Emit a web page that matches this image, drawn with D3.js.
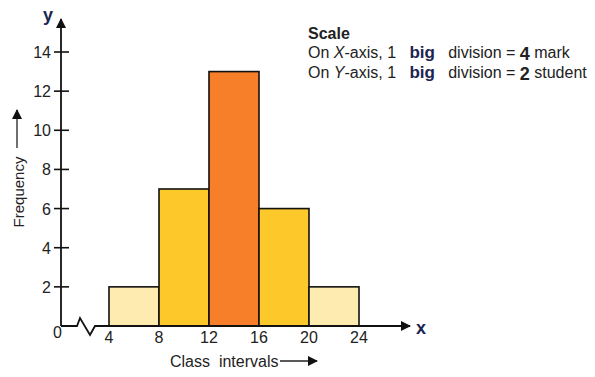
<!DOCTYPE html>
<html>
<head>
<meta charset="utf-8">
<script src="https://cdn.jsdelivr.net/npm/d3@7"></script>
<style>
  body { margin: 0; background: #fff; }
  text { font-family: "Liberation Sans", Arial, sans-serif; }
</style>
</head>
<body>
<script>
// class intervals and frequencies
const lower = [4, 8, 12, 16, 20];
const upper = [8, 12, 16, 20, 24];
const freq = [2, 7, 13, 6, 2];
const fills = ["#feebb0", "#fdc82a", "#f77f2a", "#fdc82a", "#feebb0"];
const xTicks = [4, 8, 12, 16, 20, 24];
const yTicks = [2, 4, 6, 8, 10, 12, 14];

const svg = d3.select("body").append("svg")
   .attr("width", 595)
   .attr("height", 377);

const x = d3.scaleLinear().domain([4, 24]).range([109, 359]);
const y = d3.scaleLinear().domain([0, 14]).range([326, 52]);
const x0 = 61;

// bars
svg.selectAll("rect.bar")
   .data(freq)
   .enter()
   .append("rect")
   .attr("class", "bar")
   .attr("x", (d, i) => x(lower[i]))
   .attr("y", d => y(d))
   .attr("width", (d, i) => x(upper[i]) - x(lower[i]))
   .attr("height", d => y(0) - y(d))
   .style("fill", (d, i) => fills[i])
   .style("stroke", "#111")
   .style("stroke-width", 1.6);

// arrow marker
svg.append("defs").append("marker")
   .attr("id", "arr")
   .attr("viewBox", "0 0 10 10")
   .attr("refX", 9).attr("refY", 5)
   .attr("markerWidth", 10).attr("markerHeight", 10)
   .attr("markerUnits", "userSpaceOnUse")
   .attr("orient", "auto")
   .append("path").attr("d", "M0,0 L10,5 L0,10 z").attr("fill", "#111");

// y axis line
svg.append("line")
   .attr("x1", x0).attr("y1", y(0))
   .attr("x2", x0).attr("y2", 19)
   .style("stroke", "#111").style("stroke-width", 1.8)
   .attr("marker-end", "url(#arr)");

// x axis with break
svg.append("path")
   .attr("d", `M${x0},${y(0)} L77,${y(0)} L80,318 L90,335 L95,${y(0)} L${x(4)},${y(0)}`)
   .style("fill", "none").style("stroke", "#111").style("stroke-width", 1.8);
svg.append("line")
   .attr("x1", x(4)).attr("y1", y(0))
   .attr("x2", 410).attr("y2", y(0))
   .style("stroke", "#111").style("stroke-width", 1.8)
   .attr("marker-end", "url(#arr)");

// y ticks
svg.selectAll("line.yt")
   .data(yTicks)
   .enter()
   .append("line")
   .attr("x1", x0 - 7).attr("x2", x0 + 8)
   .attr("y1", d => y(d)).attr("y2", d => y(d))
   .style("stroke", "#111").style("stroke-width", 1.6);
svg.selectAll("text.yl")
   .data([0].concat(yTicks))
   .enter()
   .append("text")
   .attr("x", d => d == 0 ? 62 : 51)
   .attr("y", d => d == 0 ? 338 : y(d) + 6)
   .attr("text-anchor", "end")
   .style("font-size", "16px")
   .style("fill", "#222")
   .text(d => d);

// x tick labels
svg.selectAll("text.xl")
   .data(xTicks)
   .enter()
   .append("text")
   .attr("x", d => x(d))
   .attr("y", 343)
   .attr("text-anchor", "middle")
   .style("font-size", "16px")
   .style("fill", "#222")
   .text(d => d);

// axis letters
svg.append("text").attr("x", 48).attr("y", 21)
   .attr("text-anchor", "middle")
   .style("font-size", "18px").style("font-weight", "bold").style("fill", "#1b2550")
   .text("y");
svg.append("text").attr("x", 421).attr("y", 334)
   .attr("text-anchor", "middle")
   .style("font-size", "18px").style("font-weight", "bold").style("fill", "#1b2550")
   .text("x");

// axis titles
svg.append("text").attr("x", 170).attr("y", 367)
   .style("font-size", "16px").style("fill", "#222")
   .attr("xml:space", "preserve")
   .text("Class  intervals");
svg.append("line")
   .attr("x1", 280).attr("y1", 361).attr("x2", 317).attr("y2", 361)
   .style("stroke", "#222").style("stroke-width", 1.3)
   .attr("marker-end", "url(#arr)");

svg.append("text")
   .attr("transform", "translate(24,192) rotate(-90)")
   .attr("text-anchor", "middle")
   .style("font-size", "15px").style("fill", "#222")
   .text("Frequency");
svg.append("line")
   .attr("x1", 17).attr("y1", 148).attr("x2", 17).attr("y2", 110)
   .style("stroke", "#222").style("stroke-width", 1.3)
   .attr("marker-end", "url(#arr)");

// scale note
const note = svg.append("g").style("fill", "#222").style("font-size", "16px");
note.append("text").attr("x", 308).attr("y", 39)
   .style("font-weight", "bold").text("Scale");
const lines = [
  ["On ", "X", "-axis, 1", "big", "division =", "4", "mark"],
  ["On ", "Y", "-axis, 1", "big", "division =", "2", "student"]
];
lines.forEach((ln, i) => {
  const t = note.append("text").attr("x", 308).attr("y", 58 + i * 20).attr("xml:space", "preserve");
  t.append("tspan").text(ln[0]);
  t.append("tspan").style("font-style", "italic").text(ln[1]);
  t.append("tspan").text(ln[2] + "   ");
  t.append("tspan").style("font-weight", "bold").style("fill", "#1b2550").style("font-size", "17px").text(ln[3]);
  t.append("tspan").text("   " + ln[4] + " ");
  t.append("tspan").style("font-weight", "bold").style("font-size", "18px").attr("dy", 2).text(ln[5]);
  t.append("tspan").attr("dy", -2).text(" " + ln[6]);
});
</script>
</body>
</html>
